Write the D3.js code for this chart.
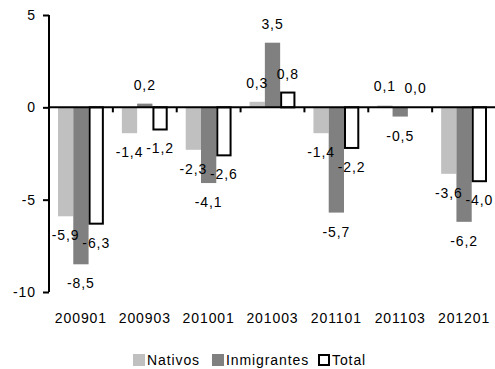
<!DOCTYPE html>
<html><head><meta charset="utf-8">
<script src="https://cdn.jsdelivr.net/npm/d3@7"></script>
<style>body{margin:0;background:#fff}svg{display:block}text{font-family:"Liberation Sans",Arial,sans-serif;fill:#000;letter-spacing:0.9px}</style>
</head><body><svg id="c" width="495" height="369"></svg>
<script>
const categories = ["200901","200903","201001","201003","201101","201103","201201"];
const seriesNames = ["Nativos","Inmigrantes","Total"];
const nativos = [-5.9,-1.4,-2.3,0.3,-1.4,0.1,-3.6];
const inmigrantes = [-8.5,0.2,-4.1,3.5,-5.7,-0.5,-6.2];
const total = [-6.3,-1.2,-2.6,0.8,-2.2,0.0,-4.0];
const yTicks = [5,0,-5,-10];

const seriesVals = [nativos, inmigrantes, total];
const fills = ["#c0c0c0","#808080","#ffffff"];
const strokes = [null,null,"#000"];
const FS = 14;
const svg = d3.select("#c");
const x = d3.scaleBand().domain(categories).range([49,496]).paddingInner(0).paddingOuter(0);
const y = d3.scaleLinear().domain([-10,5]).range([292,15]);
const inner = d3.scaleBand().domain(seriesNames).range([9, x.bandwidth()-9]);
const fmt = v => v.toFixed(1).replace(".", ",");

// bars
seriesVals.forEach((vals, si) => {
  const g = svg.append("g");
  g.selectAll("rect").data(vals).enter().append("rect")
    .attr("x", (d,i) => x(categories[i]) + inner(seriesNames[si]) + (strokes[si]?1:0))
    .attr("width", inner.bandwidth() - (strokes[si]?2:0))
    .attr("y", d => y(Math.max(0,d)))
    .attr("height", d => Math.abs(y(d)-y(0)))
    .attr("fill", fills[si])
    .attr("stroke", strokes[si])
    .attr("stroke-width", strokes[si]?2:0);
});

// y axis
const ya = svg.append("g").attr("transform","translate(49,0)")
  .call(d3.axisLeft(y).tickValues(yTicks).tickSize(6).tickPadding(7).tickFormat(d=>d));
ya.select(".domain").attr("stroke","#000").attr("stroke-width",2).attr("d","M0,15V292");
ya.selectAll(".tick line").attr("stroke","#000").attr("stroke-width",2);
ya.selectAll("text").attr("font-size",FS).style("font-family","Liberation Sans, Arial, sans-serif");

// x axis at zero
const xa = svg.append("g").attr("transform",`translate(0,${y(0)})`)
  .call(d3.axisBottom(x).tickSize(0).tickFormat(""));
xa.select(".domain").attr("stroke","#000").attr("stroke-width",2).attr("d","M49,0H496");
const bounds = categories.map(c => x(c) + x.bandwidth());
svg.append("g").selectAll("line").data(bounds).enter().append("line")
  .attr("x1",d=>d).attr("x2",d=>d).attr("y1",y(0)).attr("y2",y(0)+5)
  .attr("stroke","#000").attr("stroke-width",2);

// category labels
svg.append("g").selectAll("text").data(categories).enter().append("text")
  .attr("x", d => x(d)+x.bandwidth()/2).attr("y", 318)
  .attr("dominant-baseline","central")
  .attr("text-anchor","middle").attr("font-size",FS).text(d=>d);

// value labels
seriesVals.forEach((vals, si) => {
  svg.append("g").selectAll("text").data(vals).enter().append("text")
    .attr("x", (d,i) => x(categories[i]) + inner(seriesNames[si]) + inner.bandwidth()/2)
    .attr("y", d => d >= 0 ? y(d) - 19 : y(d) + 19)
    .attr("dominant-baseline","central")
    .attr("text-anchor","middle").attr("font-size",FS).text(d => fmt(d));
});

// legend
const legX = [133, 212, 318];
const lg = svg.append("g");
seriesNames.forEach((n, i) => {
  lg.append("rect").attr("x", legX[i] + (strokes[i]?1:0)).attr("y", 354 + (strokes[i]?1:0))
    .attr("width", 12 - (strokes[i]?2:0)).attr("height", 12 - (strokes[i]?2:0))
    .attr("fill", fills[i]).attr("stroke", strokes[i]).attr("stroke-width", strokes[i]?2:0);
  lg.append("text").attr("x", legX[i]+14).attr("y", 360).attr("dominant-baseline","central")
    .attr("font-size",FS).text(n);
});
</script></body></html>
